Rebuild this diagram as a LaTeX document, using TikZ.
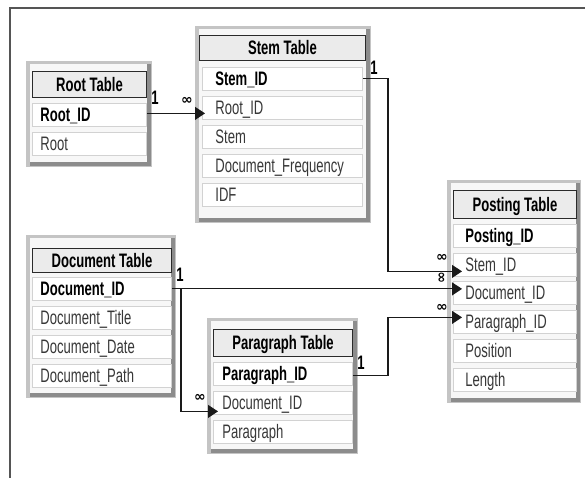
\documentclass[tikz,border=0pt]{standalone}
\usepackage{fontspec}
\setmainfont[FakeStretch=0.67]{Liberation Sans}
\newfontfamily\symfont{DejaVu Sans}
\usetikzlibrary{arrows.meta}
\definecolor{panellight}{HTML}{C4C4C4}
\definecolor{paneldark}{HTML}{8C8C8C}
\definecolor{panelin}{HTML}{F7F7F7}
\definecolor{hdrfill}{HTML}{EBEBEB}
\definecolor{hdrline}{HTML}{2A2A2A}
\definecolor{rowline}{HTML}{D2D2D2}
\definecolor{fieldtext}{HTML}{383838}
\definecolor{connline}{HTML}{1A1A1A}
\definecolor{framecol}{HTML}{555555}
\newcommand{\dbpanel}[4]{%
  \fill[panellight] (#1,#2) rectangle (#3,#4);
  \fill[paneldark] ({#1+4},{#2+3}) rectangle ({#3-1},{#4-1});
  \fill[panelin] ({#1+4},{#2+3}) rectangle ({#3-5},{#4-5});
}
\begin{document}
\begin{tikzpicture}[x=1pt,y=-1pt,
  hdr/.style={draw=hdrline, fill=hdrfill, line width=1pt, inner sep=0pt, anchor=north west,
    font=\fontsize{19.5}{19.5}\selectfont\bfseries, text height=13.9pt, text depth=0pt},
  rowbox/.style={draw=rowline, fill=white, line width=0.8pt, anchor=north west, inner ysep=0pt,
    minimum height=23pt, align=left, text height=13.9pt, text depth=0pt,
    font=\fontsize{19.5}{19.5}\selectfont, text=fieldtext},
  keyrow/.style={rowbox, font=\fontsize{19.5}{19.5}\selectfont\bfseries, text=black},
  card/.style={font=\fontsize{19.5}{19.5}\selectfont\bfseries, inner sep=0pt, text=black},
  many/.style={font=\symfont\fontsize{14}{14}\selectfont\bfseries, inner sep=0pt, text=black},
  conn/.style={draw=connline, line width=1.1pt},
  arr/.style={conn, -{Triangle[length=10pt,width=13pt]}},
  framestyle/.style={draw=framecol, line width=1.4pt}
]
\useasboundingbox (0,0) rectangle (585,478);
\fill[white] (0,0) rectangle (585,478);
\draw[framestyle] (10,478) -- (10,8) -- (585,8);

% Root Table
\dbpanel{26}{61}{152}{167}
\node[hdr, minimum width=114pt, minimum height=26pt] (roothdr) at (32,71) {Root Table};
\node[keyrow, inner xsep=8pt, text width=98pt] (rootid) at (32,103) {Root\_ID};
\node[rowbox, inner xsep=8pt, text width=98pt] (rootroot) at (32,132) {Root};

% Stem Table
\dbpanel{195}{26}{371}{223}
\node[hdr, minimum width=166pt, minimum height=25pt] (stemhdr) at (199,35) {Stem Table};
\node[keyrow, inner xsep=13pt, text width=134pt] (stemid) at (202,67) {Stem\_ID};
\node[rowbox, inner xsep=13pt, text width=134pt] (stemroot) at (202,96) {Root\_ID};
\node[rowbox, inner xsep=13pt, text width=134pt] (stemstem) at (202,125) {Stem};
\node[rowbox, inner xsep=13pt, text width=134pt] (stemfreq) at (202,154) {Document\_Frequency};
\node[rowbox, inner xsep=13pt, text width=134pt] (stemidf) at (202,183) {IDF};

% Posting Table
\dbpanel{447}{180}{581}{403}
\node[hdr, minimum width=123pt, minimum height=28pt] (posthdr) at (453,190) {Posting Table};
\node[keyrow, inner xsep=12pt, text width=99pt] (postid) at (453,224) {Posting\_ID};
\node[rowbox, inner xsep=12pt, text width=99pt] (poststem) at (453,253) {Stem\_ID};
\node[rowbox, inner xsep=12pt, text width=99pt] (postdoc) at (453,281) {Document\_ID};
\node[rowbox, inner xsep=12pt, text width=99pt] (postpara) at (453,310) {Paragraph\_ID};
\node[rowbox, inner xsep=12pt, text width=99pt] (postpos) at (453,339) {Position};
\node[rowbox, inner xsep=12pt, text width=99pt] (postlen) at (453,368) {Length};

% Document Table
\dbpanel{26}{235}{176}{398}
\node[hdr, minimum width=139pt, minimum height=24pt] (dochdr) at (32,248) {Document Table};
\node[keyrow, inner xsep=8pt, text width=123pt] (docid) at (32,277) {Document\_ID};
\node[rowbox, inner xsep=8pt, text width=123pt] (doctitle) at (32,306) {Document\_Title};
\node[rowbox, inner xsep=8pt, text width=123pt] (docdate) at (32,335) {Document\_Date};
\node[rowbox, inner xsep=8pt, text width=123pt] (docpath) at (32,364) {Document\_Path};

% Paragraph Table
\dbpanel{207}{318}{358}{454}
\node[hdr, minimum width=139pt, minimum height=27pt] (parahdr) at (213,329) {Paragraph Table};
\node[keyrow, inner xsep=9pt, text width=121pt] (paraid) at (213,362) {Paragraph\_ID};
\node[rowbox, inner xsep=9pt, text width=121pt] (paradoc) at (213,391) {Document\_ID};
\node[rowbox, inner xsep=9pt, text width=121pt] (paratext) at (213,420) {Paragraph};

% connector coordinates
\coordinate (sbus) at (388,0);
\coordinate (dbus) at (181,0);
\coordinate (c1tip) at ([shift={(3,5.5)}]stemroot.west);
\coordinate (c2tip) at ([shift={(9,6.5)}]poststem.west);
\coordinate (c3tip) at ([shift={(9,-4)}]postdoc.west);
\coordinate (c3btip) at ([shift={(5,8.5)}]paradoc.west);
\coordinate (c4tip) at ([shift={(9,-4.5)}]postpara.west);

% connectors
\draw[arr] ([shift={(0,-1.5)}]rootid.east) -- (c1tip);
\draw[arr] (stemid.east) -- (stemid.east -| sbus) |- (c2tip);
\draw[arr] (docid.east) -- (c3tip);
\draw[arr] (docid.east -| dbus) |- (c3btip);
\draw[arr] ([shift={(0,2)}]paraid.east) -- ([shift={(0,2)}]paraid.east -| sbus) |- (c4tip);

% cardinality labels
\node[card] (one1) at (155,98) {1};
\node[card] (one2) at (374,68) {1};
\node[card] (one3) at (180,275) {1};
\node[card] (one4) at (361,363) {1};
\node[many] (inf1) at (187,101) {∞};
\node[many] (inf2) at (442,258) {∞};
\node[many, rotate=90] (inf3) at (442,278) {∞};
\node[many] (inf4) at (442,308) {∞};
\node[many] (inf5) at (200,398) {∞};
\end{tikzpicture}
\end{document}
